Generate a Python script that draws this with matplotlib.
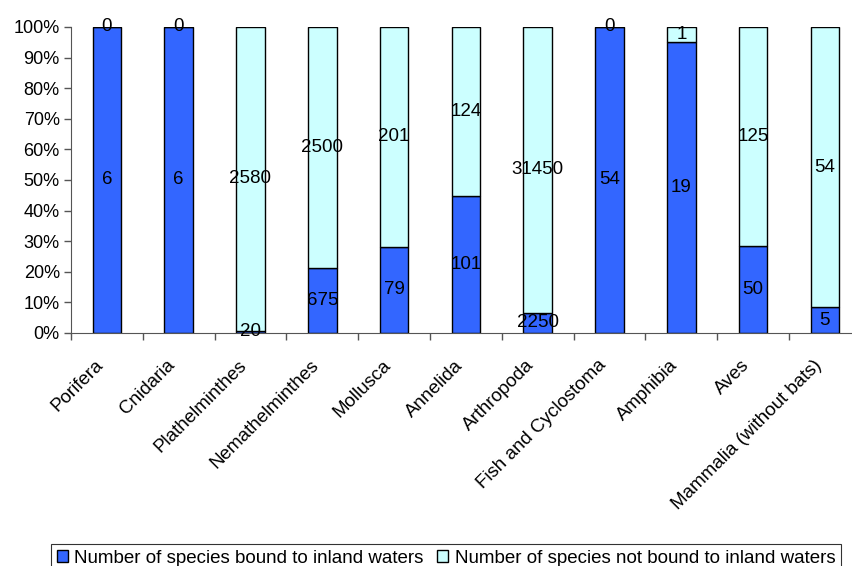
import numpy as np
import matplotlib.pyplot as plt
import matplotlib.transforms as mtransforms
from matplotlib.ticker import PercentFormatter, FixedLocator

plt.rcParams['font.family'] = ['Liberation Sans', 'DejaVu Sans']

# taxonomic groups and species counts
groups = ['Porifera', 'Cnidaria', 'Plathelminthes', 'Nemathelminthes', 'Mollusca',
          'Annelida', 'Arthropoda', 'Fish and Cyclostoma', 'Amphibia', 'Aves',
          'Mammalia (without bats)']
bound = [6, 6, 20, 675, 79, 101, 2250, 54, 19, 50, 5]
not_bound = [0, 0, 2580, 2500, 201, 124, 31450, 0, 1, 125, 54]

bound_lbl = 'Number of species bound to inland waters'
not_bound_lbl = 'Number of species not bound to inland waters'

b = np.array(bound, dtype=float)
nb = np.array(not_bound, dtype=float)
tot = b + nb
b_pct = b / tot * 100
nb_pct = nb / tot * 100

fig = plt.figure(figsize=(8.53, 5.66), dpi=100)
ax = fig.add_axes([0.0832, 0.4117, 0.926, 0.5406])

x = np.arange(len(groups))
w = 0.4
ax.bar(x, b_pct, w, color='#3366FF', edgecolor='black', linewidth=1.0, label=bound_lbl)
ax.bar(x, nb_pct, w, bottom=b_pct, color='#CCFFFF', edgecolor='black', linewidth=1.0,
       label=not_bound_lbl)

# value labels in the middle of each segment
for i in range(len(groups)):
    ax.text(x[i], b_pct[i] / 2, str(bound[i]), ha='center', va='center', fontsize=13.5)
    ax.text(x[i], b_pct[i] + nb_pct[i] / 2, str(not_bound[i]), ha='center', va='center', fontsize=13.5)

ax.set_xlim(-0.5, len(groups) - 0.5)
ax.set_ylim(0, 100)
ax.set_yticks(np.arange(0, 101, 10))
ax.yaxis.set_major_formatter(PercentFormatter(decimals=0))
ax.tick_params(axis='y', direction='out', length=5, width=1, labelsize=13, color='#555555', pad=3)

# category labels centred, ticks between categories
ax.xaxis.set_major_locator(FixedLocator(np.arange(-0.5, len(groups), 1)))
ax.xaxis.set_minor_locator(FixedLocator(x))
ax.tick_params(axis='x', which='major', direction='out', length=5, width=1, color='#555555', labelbottom=False)
ax.tick_params(axis='x', which='minor', length=0, pad=10)
ax.set_xticks(x, groups, minor=True, rotation=45, ha='right', rotation_mode='anchor', fontsize=13.5)
shift = mtransforms.ScaledTranslation(-0.12, -0.10, fig.dpi_scale_trans)
for lbl in ax.get_xticklabels(minor=True):
    lbl.set_transform(lbl.get_transform() + shift)

for s in ['top', 'right']:
    ax.spines[s].set_visible(False)
for s in ['left', 'bottom']:
    ax.spines[s].set_color('#555555')

leg = fig.legend(loc='upper left', bbox_to_anchor=(0.0598, 0.0390), ncol=2, frameon=True,
                 fancybox=False, edgecolor='black', fontsize=13.5, handlelength=0.6,
                 handleheight=0.6, handletextpad=0.35, columnspacing=0.7, borderpad=0.3,
                 borderaxespad=0)
leg.get_frame().set_linewidth(0.8)

fig.savefig('out.png', dpi=100)
